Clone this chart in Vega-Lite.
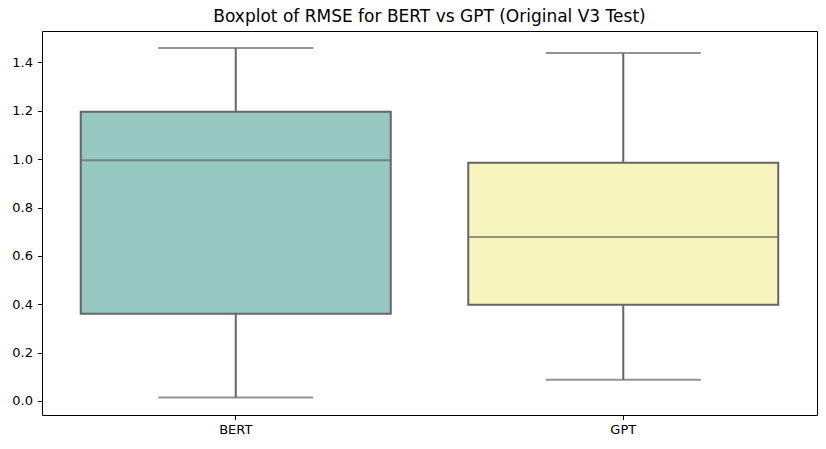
{
  "$schema": "https://vega.github.io/schema/vega-lite/v6.json",
  "autosize": {"type": "none"},
  "padding": {"left": 42, "top": 31, "right": 8, "bottom": 34},
  "width": 775,
  "height": 384,
  "background": "white",
  "title": {"text": "Boxplot of RMSE for BERT vs GPT (Original V3 Test)", "font": "DejaVu Sans", "fontSize": 17, "fontWeight": "normal", "color": "black", "offset": 5},
  "config": {
    "view": {"stroke": "black", "strokeWidth": 1},
    "axis": {"labelFont": "DejaVu Sans", "labelFontSize": 13, "labelColor": "black", "tickColor": "black", "tickSize": 4.5, "domain": false, "grid": false, "title": null}
  },
  "data": {"values": [
    {"model": "BERT", "min": 0.014, "q1": 0.361, "median": 0.996, "q3": 1.196, "max": 1.460},
    {"model": "GPT", "min": 0.088, "q1": 0.398, "median": 0.678, "q3": 0.985, "max": 1.439}
  ]},
  "encoding": {
    "x": {"field": "model", "type": "nominal", "scale": {"paddingInner": 0, "paddingOuter": 0}, "axis": {"labelAngle": 0, "labelPadding": 4}}
  },
  "layer": [
    {
      "mark": {"type": "rule", "color": "#666666", "strokeWidth": 2},
      "encoding": {
        "y": {"field": "min", "type": "quantitative", "scale": {"domain": [-0.058, 1.53], "nice": false, "zero": false}, "axis": {"values": [0, 0.2, 0.4, 0.6, 0.8, 1.0, 1.2, 1.4], "format": ".1f", "labelPadding": 5}},
        "y2": {"field": "max"}
      }
    },
    {
      "mark": {"type": "bar", "stroke": "#666666", "strokeWidth": 2, "width": {"band": 0.8}},
      "encoding": {
        "y": {"field": "q1", "type": "quantitative"},
        "y2": {"field": "q3"},
        "color": {"field": "model", "type": "nominal", "scale": {"domain": ["BERT", "GPT"], "range": ["#97c8c1", "#f6f5bd"]}, "legend": null}
      }
    },
    {
      "mark": {"type": "tick", "color": "#666666", "thickness": 2, "size": 310, "orient": "horizontal"},
      "encoding": {"y": {"field": "median", "type": "quantitative"}}
    },
    {
      "mark": {"type": "tick", "color": "#666666", "thickness": 2, "size": 155, "orient": "horizontal"},
      "encoding": {"y": {"field": "min", "type": "quantitative"}}
    },
    {
      "mark": {"type": "tick", "color": "#666666", "thickness": 2, "size": 155, "orient": "horizontal"},
      "encoding": {"y": {"field": "max", "type": "quantitative"}}
    }
  ]
}
